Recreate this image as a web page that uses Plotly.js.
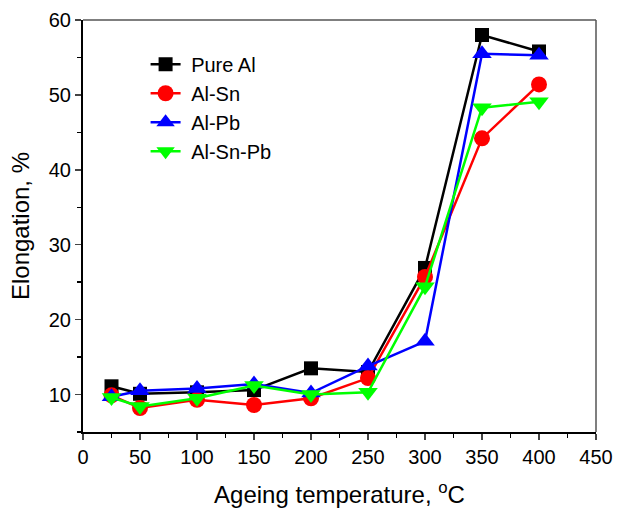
<!DOCTYPE html>
<html>
<head>
<meta charset="utf-8">
<script src="https://cdn.plot.ly/plotly-3.0.1.min.js"></script>
<style>html,body{margin:0;padding:0;background:#fff;}#chart{width:618px;height:512px;}</style>
</head>
<body>
<div id="chart"></div>
<script>
const temperature = [25, 50, 100, 150, 200, 250, 300, 350, 400];
const pureAl  = [11.1, 10.1, 10.3, 10.6, 13.5, 13.0, 26.9, 58.0, 55.8];
const alSn    = [9.9, 8.2, 9.3, 8.6, 9.5, 12.2, 25.7, 44.2, 51.4];
const alPb    = [9.7, 10.5, 10.8, 11.4, 10.2, 13.8, 17.1, 55.5, 55.3];
const alSnPb  = [9.6, 8.4, 9.5, 11.2, 10.0, 10.3, 24.4, 48.3, 49.1];
const seriesNames = ['Pure Al', 'Al-Sn', 'Al-Pb', 'Al-Sn-Pb'];

const colors = ['#000000', '#ff0000', '#0000ff', '#00ff00'];
const symbols = ['square', 'circle', 'triangle-up', 'triangle-down'];
const sizes = [14, 16, 17, 17];
const ys = [pureAl, alSn, alPb, alSnPb];

const traces = ys.map((y, i) => ({
  x: temperature, y: y, name: '\u00a0' + seriesNames[i], type: 'scatter', mode: 'lines+markers',
  line: {color: colors[i], width: 2.5},
  marker: {symbol: symbols[i], size: sizes[i], color: colors[i], line: {width: 0}}
}));

const font = {family: 'Arial, "Liberation Sans", sans-serif', color: '#000'};

const layout = {
  width: 618, height: 512,
  margin: {l: 83, r: 22, t: 20, b: 80},
  paper_bgcolor: '#fff', plot_bgcolor: '#fff',
  font: Object.assign({size: 20}, font),
  showlegend: true,
  legend: {x: 0.122, y: 0.94, xanchor: 'left', yanchor: 'top', bgcolor: 'rgba(0,0,0,0)',
           font: Object.assign({size: 20}, font), tracegroupgap: 0},
  xaxis: {
    range: [0, 450], tick0: 0, dtick: 50, ticks: 'outside', ticklen: 6, tickwidth: 1.5,
    showline: true, linecolor: '#000', linewidth: 2, showgrid: false, zeroline: false,
    tickfont: Object.assign({size: 20}, font),
    minor: {dtick: 25, ticks: 'outside', ticklen: 4, tickwidth: 1.5, tickcolor: '#000', showgrid: false},
    title: {text: 'Ageing temperature, <sup>o</sup>C', font: Object.assign({size: 24}, font), standoff: 19}
  },
  yaxis: {
    range: [5, 60], tick0: 0, dtick: 10, ticks: 'outside', ticklen: 6, tickwidth: 1.5,
    showline: true, linecolor: '#000', linewidth: 2, showgrid: false, zeroline: false,
    tickfont: Object.assign({size: 20}, font),
    minor: {dtick: 5, ticks: 'outside', ticklen: 4, tickwidth: 1.5, tickcolor: '#000', showgrid: false},
    title: {text: 'Elongation, %', font: Object.assign({size: 24}, font), standoff: 12}
  },
  shapes: [
    {type: 'line', xref: 'paper', yref: 'paper', x0: 0, x1: 1, y0: 1, y1: 1, line: {color: '#555', width: 1.5}},
    {type: 'line', xref: 'paper', yref: 'paper', x0: 1, x1: 1, y0: 0, y1: 1, line: {color: '#555', width: 1.5}}
  ]
};

Plotly.newPlot('chart', traces, layout, {displayModeBar: false, staticPlot: true});
</script>
</body>
</html>
